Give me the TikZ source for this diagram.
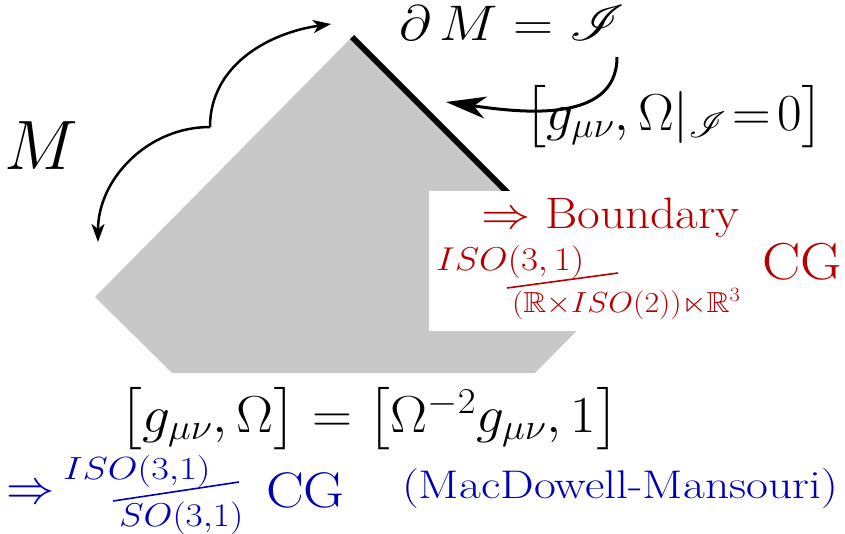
\RequirePackage{fix-cm}
\documentclass[tikz,border=0pt]{standalone}
\usepackage{amssymb}
\usepackage{mathrsfs}
\usepackage{graphicx}
\DeclareFontFamily{U}{rsfs}{\skewchar\font127 }
\DeclareFontShape{U}{rsfs}{m}{n}{<-6> rsfs5 <6-8> rsfs7 <8-> rsfs10}{}
\usetikzlibrary{arrows.meta}
\definecolor{pgray}{RGB}{200,200,200}
\definecolor{dred}{RGB}{180,0,0}
\definecolor{dblue}{RGB}{0,0,180}
\newcommand{\fsz}[1]{\fontsize{#1}{#1}\selectfont}
\newcommand{\sx}[2]{\scalebox{#1}[1]{#2}}
\makeatletter
\newcommand{\bop}[1]{\mathopen{\hbox{$\left#1\vcenter to1.15em{}\right.\n@space$}}}
\newcommand{\bcl}[1]{\mathclose{\hbox{$\left.\vcenter to1.15em{}\right#1\n@space$}}}
\makeatother
\begin{document}
\begin{tikzpicture}[x=1pt,y=-1pt,
  txt/.style={inner sep=0pt, outer sep=0pt, anchor=base west},
  arrL/.style={line width=2.5pt, -{Stealth[length=18pt,width=13pt,inset=5pt]}},
  arrR/.style={line width=3pt, -{Stealth[length=40pt,width=22pt,inset=12pt]}},
  fracline/.style={line width=1.6pt}]
\useasboundingbox (0,0) rectangle (845,533);
% region
\fill[pgray] (352,37) -- (611,296) -- (535,373) -- (172,373) -- (95,297) -- cycle;
\draw[line width=6pt] (352,37) -- (611,296);
\fill[white] (429,191) rectangle (845,331);
% texts
\node[txt] (M) at (5,169) {\fsz{70}$M$};
\node[txt] (dM) at (399,40) {\fsz{50}\sx{1.11}{$\partial\, M=\mathscr{I}$}};
\node[txt] (bc) at (524,130) {\fsz{52}\sx{1.03}{$\bop[g_{\mu\nu},\Omega|_{\mathscr I}\!=\!0\bcl]$}};
\node[txt, text=dred] (bd) at (481,228) {\fsz{44}\sx{1.12}{$\Rightarrow$ Boundary}};
\node[txt, text=dred] (rn) at (436,270) {\fsz{33}\sx{1.12}{$ISO(3,1)$}};
\node[txt, text=dred] (rd) at (512,312) {\fsz{29}\sx{1.1}{$(\mathbb{R}{\times}ISO(2)){\ltimes}\mathbb{R}^3$}};
\coordinate (rl1) at (507,288);
\coordinate (rl2) at (618,273);
\draw[fracline, dred] (rl1) -- (rl2);
\node[txt, text=dred] (rcg) at (762,279) {\fsz{52}\sx{1.1}{CG}};
\node[txt] (eq) at (119,432) {\fsz{52}\sx{1.065}{$\bop[g_{\mu\nu},\Omega\bcl]=\bop[\Omega^{-2}g_{\mu\nu},1\bcl]$}};
% blue
\node[txt, text=dblue] (bimp) at (6,503) {\fsz{48}$\Rightarrow$};
\node[txt, text=dblue] (bn) at (63,479) {\fsz{32}\sx{1.2}{$ISO(3{,}1)$}};
\node[txt, text=dblue] (bdn) at (119,526) {\fsz{33}\sx{1.13}{$SO(3{,}1)$}};
\coordinate (bl1) at (113,501);
\coordinate (bl2) at (239,482);
\draw[fracline, dblue] (bl1) -- (bl2);
\node[txt, text=dblue] (bcg) at (266,507) {\fsz{50}\sx{1.13}{CG}};
\node[txt, text=dblue] (mm) at (402,498) {\fsz{40}\sx{1.19}{(MacDowell-Mansouri)}};
% arrows
\coordinate (cusp) at (210,127);
\coordinate (a1) at (98,242);
\coordinate (a2) at (331,24);
\draw[arrL] (cusp) to[out=180,in=90] (a1);
\draw[arrL] (cusp) to[out=90,in=188] (a2);
\coordinate (r0) at (617,57);
\coordinate (r1) at (446,102);
\draw[arrR] (r0) to[out=-90,in=-8] (r1);
\end{tikzpicture}
\end{document}
